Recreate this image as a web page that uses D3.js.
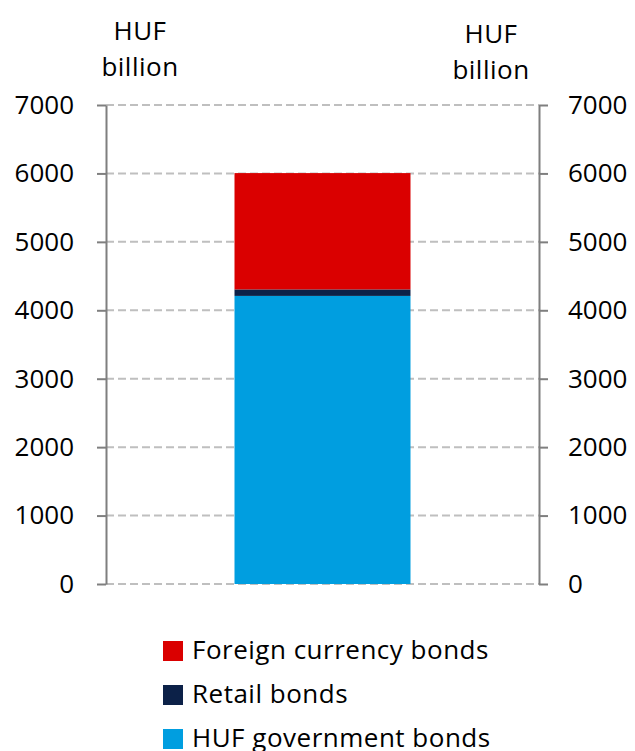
<!DOCTYPE html>
<html>
<head>
<meta charset="utf-8">
<script src="https://cdn.jsdelivr.net/npm/d3@7"></script>
<style>
  body { margin: 0; background: #fff; }
  text { font-family: "Open Sans", "Noto Sans", sans-serif; fill: #000; }
</style>
</head>
<body>
<svg id="chart" width="635" height="751"></svg>
<script>
// data
const series = ["HUF government bonds", "Retail bonds", "Foreign currency bonds"];
const values = [4210, 95, 1700];
const colors = ["#009ee0", "#0c2148", "#da0000"];
const yTicks = [0, 1000, 2000, 3000, 4000, 5000, 6000, 7000];
const legendOrder = ["Foreign currency bonds", "Retail bonds", "HUF government bonds"];

const svg = d3.select("#chart");
const plot = { left: 106, right: 539, top: 105, bottom: 584 };

const y = d3.scaleLinear().domain([0, 7000]).range([plot.bottom, plot.top]);
const x = d3.scaleBand().domain(["bar"]).range([plot.left, plot.right]).padding(0.422);
const color = d3.scaleOrdinal().domain(series).range(colors);

// gridlines
svg.append("g")
    .selectAll("line")
    .data(yTicks)
    .enter()
    .append("line")
    .attr("x1", plot.left)
    .attr("x2", plot.right)
    .attr("y1", d => y(d))
    .attr("y2", d => y(d))
    .style("stroke", "#bfbfbf")
    .style("stroke-width", 2)
    .style("stroke-dasharray", "8,4");

// stacked bar
const stackData = [Object.fromEntries(series.map((s, i) => [s, values[i]]))];
const stacked = d3.stack().keys(series)(stackData);
svg.append("g")
    .selectAll("rect")
    .data(stacked)
    .enter()
    .append("rect")
    .attr("x", x("bar"))
    .attr("width", x.bandwidth())
    .attr("y", d => y(d[0][1]))
    .attr("height", d => y(d[0][0]) - y(d[0][1]))
    .style("fill", d => color(d.key));

// axes
const axisL = svg.append("g")
    .attr("transform", `translate(${plot.left},0)`)
    .call(d3.axisLeft(y).tickValues(yTicks).tickFormat(d3.format("d"))
        .tickSize(9).tickPadding(23).tickSizeOuter(0));
const axisR = svg.append("g")
    .attr("transform", `translate(${plot.right},0)`)
    .call(d3.axisRight(y).tickValues(yTicks).tickFormat(d3.format("d"))
        .tickSize(9).tickPadding(20).tickSizeOuter(0));

[axisL, axisR].forEach(a => {
    a.select(".domain").style("stroke", "#7f7f7f").style("stroke-width", 2);
    a.selectAll(".tick line").style("stroke", "#7f7f7f").style("stroke-width", 2);
    a.selectAll(".tick text")
        .style("font-size", "26px")
        .style("font-family", "'Open Sans', sans-serif")
        .style("fill", "#000");
});

// unit labels
const unitLabels = [
    { x: 140, lines: ["HUF", "billion"], y0: 40 },
    { x: 491, lines: ["HUF", "billion"], y0: 43 }
];
unitLabels.forEach(u => {
    u.lines.forEach((t, i) => {
        svg.append("text")
            .attr("x", u.x)
            .attr("y", u.y0 + i * 36)
            .attr("text-anchor", "middle")
            .style("font-size", "26px")
            .style("letter-spacing", "0.5px")
            .text(t);
    });
});

// legend
const legend = svg.append("g").attr("transform", "translate(163,659)");
legend.selectAll("rect")
    .data(legendOrder)
    .enter()
    .append("rect")
    .attr("x", 0)
    .attr("y", (d, i) => i * 44 - 18)
    .attr("width", 20)
    .attr("height", 20)
    .style("fill", d => color(d));
legend.selectAll("text")
    .data(legendOrder)
    .enter()
    .append("text")
    .attr("x", 29)
    .attr("y", (d, i) => i * 44)
    .style("font-size", "26px")
    .style("letter-spacing", "0.5px")
    .text(d => d);
</script>
</body>
</html>
